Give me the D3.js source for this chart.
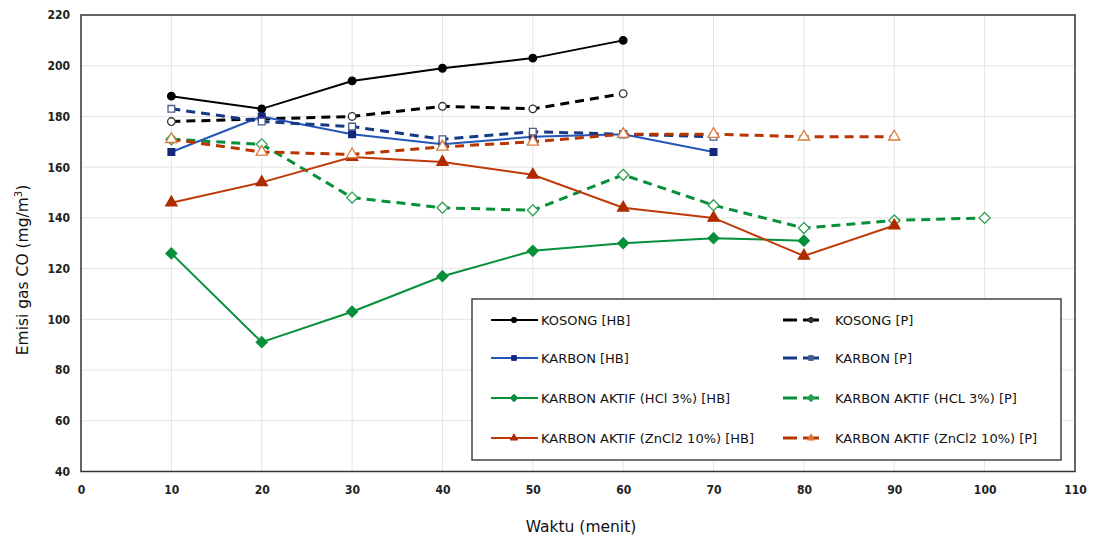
<!DOCTYPE html>
<html>
<head>
<meta charset="utf-8">
<script src="https://cdn.jsdelivr.net/npm/d3@7"></script>
<style>
  body { margin: 0; background: #fff; }
  svg { font-family: "DejaVu Sans", sans-serif; }
  .tick text { font-size: 12px; fill: #222; font-family: "DejaVu Sans Condensed", "DejaVu Sans", sans-serif; font-weight: bold; }
</style>
</head>
<body>
<svg id="chart" width="1095" height="540"></svg>
<script>
// data
const minutes = [10, 20, 30, 40, 50, 60, 70, 80, 90, 100];
const kosongHB = [188, 183, 194, 199, 203, 210];
const kosongP = [178, 179, 180, 184, 183, 189];
const karbonHB = [166, 180, 173, 169, 172, 173, 166];
const karbonP = [183, 178, 176, 171, 174, 173, 172];
const hclHB = [126, 91, 103, 117, 127, 130, 132, 131];
const hclP = [171, 169, 148, 144, 143, 157, 145, 136, 139, 140];
const zncl2HB = [146, 154, 164, 162, 157, 144, 140, 125, 137];
const zncl2P = [171, 166, 165, 168, 170, 173, 173, 172, 172];
const seriesNames = [
  'KOSONG [HB]', 'KOSONG [P]',
  'KARBON [HB]', 'KARBON [P]',
  'KARBON AKTIF (HCl 3%) [HB]', 'KARBON AKTIF (HCL 3%) [P]',
  'KARBON AKTIF (ZnCl2 10%) [HB]', 'KARBON AKTIF (ZnCl2 10%) [P]'
];
const xTicks = [0, 10, 20, 30, 40, 50, 60, 70, 80, 90, 100, 110];
const yTicks = [40, 60, 80, 100, 120, 140, 160, 180, 200, 220];

// square turned 45 degrees, like the spreadsheet diamond
const diamond = {
  draw(ctx, size) {
    const r = Math.sqrt(size) / Math.SQRT2 * 1.15;
    ctx.moveTo(0, -r); ctx.lineTo(r, 0); ctx.lineTo(0, r); ctx.lineTo(-r, 0); ctx.closePath();
  }
};

const series = [
  { name: seriesNames[0], values: kosongHB, line: '#000', fill: '#000', stroke: '#000', sym: d3.symbolCircle, dash: null },
  { name: seriesNames[1], values: kosongP, line: '#000', fill: '#fff', stroke: '#333', sym: d3.symbolCircle, dash: '9,6' },
  { name: seriesNames[2], values: karbonHB, line: '#2456b8', fill: '#13287a', stroke: '#13287a', sym: d3.symbolSquare, dash: null },
  { name: seriesNames[3], values: karbonP, line: '#173a85', fill: '#fff', stroke: '#4a5d8c', sym: d3.symbolSquare, dash: '9,6' },
  { name: seriesNames[4], values: hclHB, line: '#07903a', fill: '#07903a', stroke: '#07903a', sym: diamond, dash: null },
  { name: seriesNames[5], values: hclP, line: '#07903a', fill: '#fff', stroke: '#2aa050', sym: diamond, dash: '9,6' },
  { name: seriesNames[6], values: zncl2HB, line: '#bf3a0a', fill: '#b02a00', stroke: '#b02a00', sym: d3.symbolTriangle, dash: null },
  { name: seriesNames[7], values: zncl2P, line: '#b83500', fill: '#fff', stroke: '#d97a3a', sym: d3.symbolTriangle, dash: '9,6' }
];

const svg = d3.select('#chart');
const x = d3.scaleLinear().domain([0, 110]).range([81, 1075]);
const y = d3.scaleLinear().domain([40, 220]).range([471.5, 15]);

// grid
svg.append('g').selectAll('line').data(xTicks.slice(1, -1)).enter().append('line')
  .attr('x1', d => x(d)).attr('x2', d => x(d)).attr('y1', y(220)).attr('y2', y(40))
  .attr('stroke', '#e4e4e4').attr('stroke-width', 1);
svg.append('g').selectAll('line').data(yTicks.slice(1, -1)).enter().append('line')
  .attr('x1', x(0)).attr('x2', x(110)).attr('y1', d => y(d)).attr('y2', d => y(d))
  .attr('stroke', '#e4e4e4').attr('stroke-width', 1);

// frame
svg.append('rect').attr('x', x(0)).attr('y', y(220))
  .attr('width', x(110) - x(0)).attr('height', y(40) - y(220))
  .attr('fill', 'none').attr('stroke', '#333').attr('stroke-width', 1.5);

// axes
const xAxis = svg.append('g').attr('transform', `translate(0,${y(40)})`)
  .call(d3.axisBottom(x).tickValues(xTicks).tickSize(0).tickPadding(14));
const yAxis = svg.append('g').attr('transform', `translate(${x(0)},0)`)
  .call(d3.axisLeft(y).tickValues(yTicks).tickSize(0).tickPadding(11));
xAxis.select('.domain').remove();
yAxis.select('.domain').remove();

svg.append('text').attr('x', 581).attr('y', 532).attr('text-anchor', 'middle')
  .attr('font-size', 15.5).attr('fill', '#111').text('Waktu (menit)');
const yt = svg.append('text').attr('transform', `translate(28,270) rotate(-90)`)
  .attr('text-anchor', 'middle').attr('font-size', 15.5).attr('fill', '#111');
yt.append('tspan').text('Emisi gas CO (mg/m');
yt.append('tspan').attr('font-size', 10).attr('dy', -6).text('3');
yt.append('tspan').attr('dy', 6).text(')');

// lines + markers
const plot = svg.append('g');
series.forEach(s => {
  const pts = s.values.map((v, i) => [minutes[i], v]);
  const line = d3.line().x(d => x(d[0])).y(d => y(d[1]));
  plot.append('path').datum(pts).attr('d', line)
    .attr('fill', 'none').attr('stroke', s.line)
    .attr('stroke-width', s.dash ? 3 : 2)
    .attr('stroke-dasharray', s.dash);
});
series.forEach(s => {
  const pts = s.values.map((v, i) => [minutes[i], v]);
  const size = s.sym === d3.symbolTriangle ? 55 : 45;
  plot.append('g').selectAll('path').data(pts).enter().append('path')
    .attr('transform', d => `translate(${x(d[0])},${y(d[1])})`)
    .attr('d', d3.symbol().type(s.sym).size(size))
    .attr('fill', s.fill).attr('stroke', s.stroke).attr('stroke-width', 1.3);
});

// legend
const lg = svg.append('g');
lg.append('rect').attr('x', 472).attr('y', 299).attr('width', 589).attr('height', 161)
  .attr('fill', '#fff').attr('stroke', '#444').attr('stroke-width', 1.5);
const rowY = [320, 358, 398, 438];
series.forEach((s, i) => {
  const row = Math.floor(i / 2), col = i % 2;
  const yy = rowY[row];
  const g = lg.append('g');
  if (col === 0) {
    g.append('line').attr('x1', 491).attr('x2', 538).attr('y1', yy).attr('y2', yy)
      .attr('stroke', s.line).attr('stroke-width', 2);
    g.append('path').attr('transform', `translate(514,${yy})`)
      .attr('d', d3.symbol().type(s.sym).size(22)).attr('fill', s.stroke).attr('stroke', s.stroke);
    g.append('text').attr('x', 541).attr('y', yy + 4.5).attr('font-size', 13).attr('fill', '#111').text(s.name);
  } else {
    g.append('line').attr('x1', 783).attr('x2', 797).attr('y1', yy).attr('y2', yy)
      .attr('stroke', s.line).attr('stroke-width', 3);
    g.append('line').attr('x1', 803).attr('x2', 819).attr('y1', yy).attr('y2', yy)
      .attr('stroke', s.line).attr('stroke-width', 3);
    g.append('path').attr('transform', `translate(811,${yy})`)
      .attr('d', d3.symbol().type(s.sym).size(22)).attr('fill', s.stroke).attr('stroke', s.stroke);
    g.append('text').attr('x', 835).attr('y', yy + 4.5).attr('font-size', 13).attr('fill', '#111').text(s.name);
  }
});
</script>
</body>
</html>
